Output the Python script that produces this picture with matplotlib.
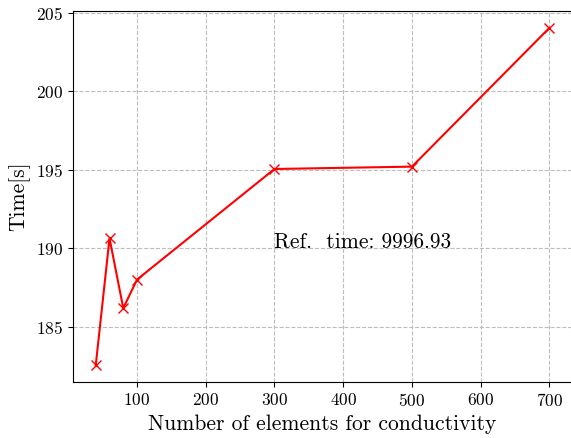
import matplotlib.pyplot as plt
import numpy as np

plt.rcParams['font.family'] = 'cmr10'
plt.rcParams['mathtext.fontset'] = 'cm'
plt.rcParams['axes.formatter.use_mathtext'] = True

n_elements = [40, 60, 80, 100, 300, 500, 700]
times = [182.55, 190.63, 186.18, 188.0, 195.05, 195.2, 204.05]
ref_time = 9996.93

fig = plt.figure(figsize=(5.71, 4.38), dpi=100)
ax = fig.add_axes([0.128, 0.128, 0.874, 0.847])

ax.plot(np.array(n_elements), np.array(times), color='red', marker='x',
        markersize=6.5, linewidth=1.5)
# latex-style wider spacing after the abbreviation
ax.text(300, 190, 'Ref.  time: {:.2f}'.format(ref_time), fontsize=15.5)

ax.grid(True, linestyle='--', color='#bdbdbd')
ax.set_xticks([100, 200, 300, 400, 500, 600, 700])
ax.set_yticks([185, 190, 195, 200, 205])
ax.tick_params(labelsize=12.5)
ax.set_xlabel('Number of elements for conductivity', fontsize=15.5)
ax.set_ylabel('Time[s]', fontsize=15.5)
# the original picture is cut off just before the right frame line
ax.spines['right'].set_visible(False)

plt.savefig('out.png')
